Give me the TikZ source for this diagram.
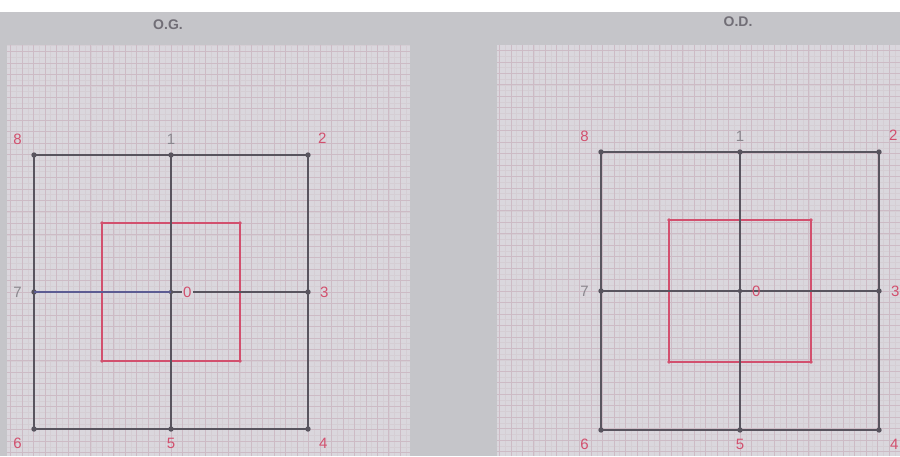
\documentclass[tikz,border=0pt]{standalone}
\usepackage{fontspec}
\setmainfont{Liberation Sans}
\usetikzlibrary{positioning}
\definecolor{paper}{HTML}{DAD7DD}
\definecolor{board}{HTML}{C5C5C9}
\definecolor{ink}{HTML}{58545E}
\definecolor{redink}{HTML}{D2506E}
\definecolor{gridpink}{HTML}{CDBBC5}
\definecolor{gridfine}{HTML}{D5CED4}
\definecolor{blueink}{HTML}{5C5C92}
\tikzstyle{gridline}=[gridpink, line width=0.6pt]
\tikzstyle{finegrid}=[gridfine, line width=0.4pt]
\tikzstyle{field}=[ink, line width=2.2pt]
\tikzstyle{central}=[redink, line width=1.7pt]
\tikzstyle{num}=[font=\fontsize{15}{15}\selectfont, text=redink, inner sep=1pt]
\tikzstyle{greynum}=[num, text=ink!70]
\tikzstyle{head}=[font=\bfseries\fontsize{14}{14}\selectfont, text=ink!85]

\begin{document}
\begin{tikzpicture}[x=1pt,y=-1pt]
  \fill[white] (0,0) rectangle (900,12);
  \fill[board] (0,12) rectangle (900,456);
  \useasboundingbox (0,0) rectangle (900,456);
  \node[head] (titleL) at (168,25) {O.G.};
  \node[head] (titleR) at (738,22) {O.D.};
  % both screens
  \foreach \p/\gx/\cx/\cy/\h/\r in {L/7/171/292/137/69, R/497/740/291/139/71}{
    \fill[paper] (\gx,45) rectangle (\gx+403,456);
    \begin{scope}[shift={(\cx,\cy)}]
      \draw[finegrid, step=5.73pt] (\gx-\cx,45-\cy) grid (\gx+403-\cx,456-\cy);
      \draw[gridline, step=11.46pt] (\gx-\cx,45-\cy) grid (\gx+403-\cx,456-\cy);
    \end{scope}
    \coordinate (\p0) at (\cx,\cy);
    \coordinate (\p1) at (\cx,\cy-\h);
    \coordinate (\p2) at (\cx+\h,\cy-\h);
    \coordinate (\p3) at (\cx+\h,\cy);
    \coordinate (\p4) at (\cx+\h,\cy+\h);
    \coordinate (\p5) at (\cx,\cy+\h);
    \coordinate (\p6) at (\cx-\h,\cy+\h);
    \coordinate (\p7) at (\cx-\h,\cy);
    \coordinate (\p8) at (\cx-\h,\cy-\h);
    \draw[central] (\cx-\r,\cy-\r) rectangle (\cx+\r,\cy+\r);
    \foreach \sx/\sy in {-1/-1,1/-1,1/1,-1/1}
      \fill[redink] (\cx+\sx*\r,\cy+\sy*\r) circle (1.8pt);
    \draw[field] (\p8) -- (\p2) -- (\p4) -- (\p6) -- cycle;
    \draw[field] (\p1) -- (\p5);
    \draw[field] (\p7) -- (\p3);
    \foreach \k in {1,...,8}
      \fill[ink] (\p\k) circle (2.7pt);
    \fill[ink] (\p0) circle (2.2pt);
    \node[num, above left=9pt and 11pt of \p8] (n\p8) {8};
    \node[greynum, above=9pt of \p1] (n\p1) {1};
    \node[num, above right=10pt and 9pt of \p2] (n\p2) {2};
    \node[num, right=11pt of \p3] (n\p3) {3};
    \node[num, below right=8pt and 10pt of \p4] (n\p4) {4};
    \node[num, below=8pt of \p5] (n\p5) {5};
    \node[num, below left=8pt and 11pt of \p6] (n\p6) {6};
    \node[greynum, left=11pt of \p7] (n\p7) {7};
  }
  % left screen: bluish segment and label 0 on the line
  \draw[blueink, line width=2.8pt] (L7) -- (L0);
  \node[num, fill=paper, right=11pt of L0] (nL0) {0};
  \node[num, right=11pt of R0] (nR0) {0};
\end{tikzpicture}
\end{document}
